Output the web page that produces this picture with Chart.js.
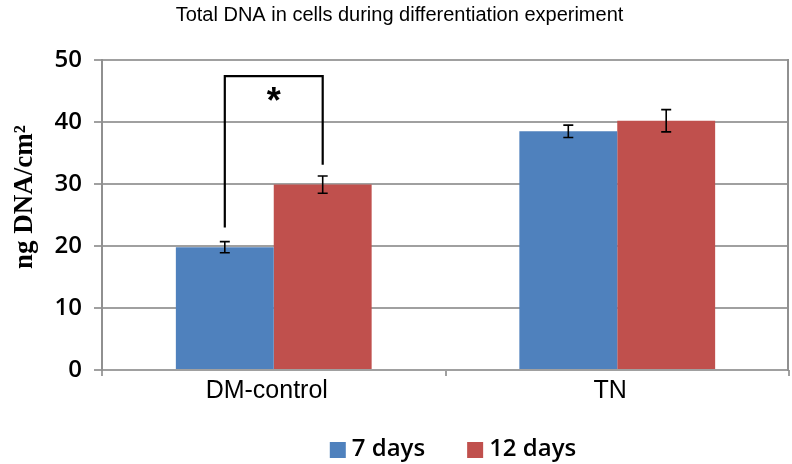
<!DOCTYPE html>
<html><head><meta charset="utf-8">
<script src="https://cdn.jsdelivr.net/npm/chart.js@4/dist/chart.umd.min.js"></script>
<style>html,body{margin:0;padding:0;background:#fff}#wrap{width:792px;height:464px}</style>
</head><body><div id="wrap"><canvas id="c" width="792" height="464"></canvas></div>
<script>
const categories = ["DM-control", "TN"];
const seriesNames = ["7 days", "12 days"];
const seriesColors = ["#4F81BD", "#C0504D"];
const days7 = [19.8, 38.5];
const days12 = [29.9, 40.2];
const err7 = [0.9, 1.0];
const err12 = [1.4, 1.8];
const yTicks = [0, 10, 20, 30, 40, 50];
const yTitle = "ng DNA/cm²";
// significance bracket: between DM-control 7 days and 12 days
const bracketTop = 47.4;
const bracketLeftBottom = 23.0;
const bracketRightBottom = 33.1;

const errPlugin = {
  id: 'errbars',
  afterDatasetsDraw(chart) {
    const ctx = chart.ctx, ys = chart.scales.y, ca = chart.chartArea;
    const errs = [err7, err12];
    ctx.save();
    // right frame line of plot area
    ctx.strokeStyle = '#909090'; ctx.lineWidth = 2;
    ctx.beginPath(); ctx.moveTo(ca.right - 1, ca.top - 1); ctx.lineTo(ca.right - 1, ca.bottom + 1); ctx.stroke();

    ctx.strokeStyle = '#000'; ctx.lineWidth = 1.6;
    chart.data.datasets.forEach((ds, di) => {
      const meta = chart.getDatasetMeta(di);
      meta.data.forEach((bar, i) => {
        const v = ds.data[i], e = errs[di][i];
        const x = bar.x, yt = ys.getPixelForValue(v + e), yb = ys.getPixelForValue(v - e);
        ctx.beginPath();
        ctx.moveTo(x, yt); ctx.lineTo(x, yb);
        ctx.moveTo(x - 5, yt); ctx.lineTo(x + 5, yt);
        ctx.moveTo(x - 5, yb); ctx.lineTo(x + 5, yb);
        ctx.stroke();
      });
    });
    // bracket
    const b0 = chart.getDatasetMeta(0).data[0], b1 = chart.getDatasetMeta(1).data[0];
    const xl = b0.x, xr = b1.x;
    const yT = ys.getPixelForValue(bracketTop);
    ctx.lineWidth = 2.2;
    ctx.beginPath();
    ctx.moveTo(xl, ys.getPixelForValue(bracketLeftBottom)); ctx.lineTo(xl, yT);
    ctx.lineTo(xr, yT); ctx.lineTo(xr, ys.getPixelForValue(bracketRightBottom));
    ctx.stroke();
    ctx.fillStyle = '#000';
    ctx.font = 'bold 36px "Liberation Sans", Arial, sans-serif';
    ctx.textAlign = 'center'; ctx.textBaseline = 'middle';
    ctx.fillText('*', (xl + xr) / 2, yT + 27);

    // y-axis title
    ctx.save();
    ctx.translate(25, 197);
    ctx.rotate(-Math.PI / 2);
    ctx.font = 'bold 27px "Liberation Serif", "Times New Roman", serif';
    ctx.textAlign = 'center'; ctx.textBaseline = 'middle';
    ctx.fillText(yTitle, 0, 0);
    ctx.restore();

    // legend
    ctx.font = '600 24px "Open Sans", sans-serif';
    ctx.textBaseline = 'middle'; ctx.textAlign = 'left';
    const box = 16, gapBT = 6, gapItems = 42;
    const widths = seriesNames.map(n => ctx.measureText(n).width);
    const total = widths.reduce((a, w) => a + box + gapBT + w, 0) + gapItems;
    let x = 453 - total / 2;
    const ly = 449;
    seriesNames.forEach((n, i) => {
      ctx.fillStyle = seriesColors[i];
      ctx.fillRect(x, ly - box / 2 + 1, box, box);
      ctx.fillStyle = '#000';
      ctx.fillText(n, x + box + gapBT, ly);
      x += box + gapBT + widths[i] + gapItems;
    });
    ctx.restore();
  }
};

new Chart(document.getElementById('c'), {
  type: 'bar',
  data: {
    labels: categories,
    datasets: [
      { label: seriesNames[0], data: days7, backgroundColor: seriesColors[0] },
      { label: seriesNames[1], data: days12, backgroundColor: seriesColors[1] }
    ]
  },
  options: {
    responsive: false, animation: false,
    layout: { padding: { left: 10, right: 3, top: 0, bottom: 58 } },
    datasets: { bar: { barPercentage: 1.0, categoryPercentage: 0.57 } },
    plugins: {
      title: { display: true, text: 'Total DNA in cells during differentiation experiment',
        color: '#000', font: { family: '"Liberation Sans", Arial, sans-serif', size: 20, weight: 'normal' },
        padding: { top: 3, bottom: 33 } },
      legend: { display: false },
      tooltip: { enabled: false }
    },
    scales: {
      x: {
        grid: { display: true, offset: true, drawOnChartArea: false, drawTicks: true, tickLength: 6, color: '#a0a0a0', lineWidth: 2 },
        border: { display: false },
        ticks: { color: '#000', font: { family: '"Liberation Sans", Arial, sans-serif', size: 25 }, padding: 0, labelOffset: -7 }
      },
      y: {
        min: 0, max: 50,
        afterBuildTicks: s => { s.ticks = yTicks.map(v => ({ value: v })); },
        afterFit: s => { s.width = 92; },
        grid: { color: '#a0a0a0', lineWidth: 2, tickLength: 8 },
        border: { color: '#909090', width: 2 },
        ticks: { color: '#000', font: { family: '"Open Sans", sans-serif', size: 24, weight: '600' }, padding: 12 },
        title: { display: false }
      }
    }
  },
  plugins: [errPlugin]
});
</script></body></html>
